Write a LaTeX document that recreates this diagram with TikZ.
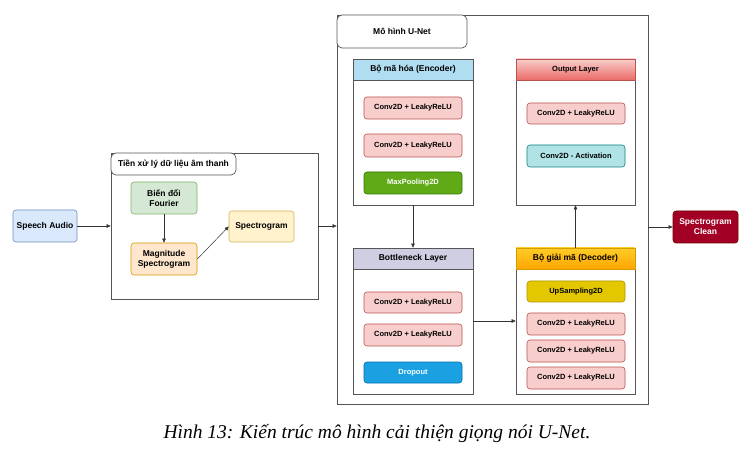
\documentclass[tikz,border=0pt]{standalone}
\usepackage{fontspec}
\setmainfont{Liberation Sans}
\setsansfont{Liberation Sans}
\newfontfamily\capfont{Liberation Serif}
\usetikzlibrary{arrows.meta,calc}
\definecolor{audioF}{HTML}{DAE8FC}\definecolor{audioD}{HTML}{6C8EBF}
\definecolor{grnF}{HTML}{D5E8D4}\definecolor{grnD}{HTML}{82B366}
\definecolor{orgF}{HTML}{FFE6CC}\definecolor{orgD}{HTML}{D79B00}
\definecolor{ylwF}{HTML}{FFF2CC}\definecolor{ylwD}{HTML}{D6B656}
\definecolor{encF}{HTML}{B1DDF0}\definecolor{encD}{HTML}{10739E}
\definecolor{redF}{HTML}{F8CECC}\definecolor{redD}{HTML}{B85450}\definecolor{redB}{HTML}{EA6B66}
\definecolor{bnF}{HTML}{D0CEE2}\definecolor{bnD}{HTML}{56517E}
\definecolor{decT}{HTML}{FFCD28}\definecolor{decB}{HTML}{FFA500}
\definecolor{mpF}{HTML}{60A917}\definecolor{mpD}{HTML}{2D7600}
\definecolor{actF}{HTML}{B0E3E6}\definecolor{actD}{HTML}{0E8088}
\definecolor{dpF}{HTML}{1BA1E2}\definecolor{dpD}{HTML}{006EAF}
\definecolor{upF}{HTML}{E3C800}\definecolor{upD}{HTML}{B09500}
\definecolor{clnF}{HTML}{A20025}\definecolor{clnD}{HTML}{6F0000}
\definecolor{frame}{HTML}{555555}
\tikzset{
  base/.style={draw, line width=0.6pt, rounded corners=3pt, align=center, inner sep=1pt, font=\sffamily\bfseries\fontsize{8.5}{10}\selectfont},
  small/.style={base, font=\sffamily\bfseries\fontsize{7.5}{9}\selectfont, minimum width=98pt},
  conv/.style={small, fill=redF, draw=redD},
  container/.style={draw=frame, line width=0.7pt, fill=white},
  panel/.style={draw=frame, line width=0.6pt, fill=white, minimum width=120pt, minimum height=146pt},
  header/.style={draw=frame, line width=0.6pt, minimum width=120pt, minimum height=21pt, font=\sffamily\bfseries\fontsize{8.5}{10}\selectfont},
  titlebox/.style={draw=frame, line width=0.7pt, fill=white, rounded corners=5pt, font=\sffamily\bfseries\fontsize{8.5}{10}\selectfont},
  arr/.style={-{Triangle[length=4pt,width=3.5pt]}, line width=0.5pt, draw=black!80}
}
\begin{document}
\begin{tikzpicture}[x=1pt,y=-1pt]
\useasboundingbox (0,0) rectangle (745,457);
\fill[white] (0,0) rectangle (745,457);

% input
\node[base, fill=audioF, draw=audioD, minimum width=64pt, minimum height=32pt] (speech) at (45,226) {Speech Audio};

% preprocessing
\node[container, minimum width=207pt, minimum height=146pt] (pre) at (214.5,226) {};
\node[titlebox, minimum width=125pt, minimum height=22pt, anchor=north west] (pretitle) at (pre.north west) {Tiền xử lý dữ liệu âm thanh};
\node[base, fill=grnF, draw=grnD, minimum width=66pt, minimum height=32pt] (fourier) at (164,198) {Biến đổi\\Fourier};
\node[base, fill=orgF, draw=orgD, minimum width=66pt, minimum height=32pt] (mag) at (164,259) {Magnitude\\Spectrogram};
\node[base, fill=ylwF, draw=ylwD, minimum width=65pt, minimum height=31pt] (spec) at (261.5,226.5) {Spectrogram};

% U-Net container
\node[container, minimum width=311pt, minimum height=389pt] (unet) at (492.5,209.5) {};
\node[titlebox, minimum width=130pt, minimum height=33pt, anchor=north west] (unettitle) at (unet.north west) {Mô hình U-Net};

% Encoder
\node[panel] (enc) at (413,132) {};
\node[header, fill=encF, anchor=north] (ench) at (enc.north) {Bộ mã hóa (Encoder)};
\node[conv, minimum height=22pt] (e1) at (413,108) {Conv2D + LeakyReLU};
\node[conv, minimum height=23pt] (e2) at (413,145.5) {Conv2D + LeakyReLU};
\node[small, fill=mpF, draw=mpD, text=white, minimum height=22pt] (e3) at (413,183) {MaxPooling2D};

% Output layer
\node[panel, minimum width=119pt] (out) at (575.5,132) {};
\node[header, minimum width=119pt, top color=redF, bottom color=redB, draw=redD, anchor=north, font=\sffamily\bfseries\fontsize{7.5}{9}\selectfont] (outh) at (out.north) {Output Layer};
\node[conv, minimum height=21pt] (o1) at (576,113.5) {Conv2D + LeakyReLU};
\node[small, fill=actF, draw=actD, minimum height=22pt] (o2) at (576,156) {Conv2D - Activation};

% Bottleneck
\node[panel] (bn) at (413,321) {};
\node[header, fill=bnF, anchor=north] (bnh) at (bn.north) {Bottleneck Layer};
\node[conv, minimum height=21pt] (b1) at (413,302.5) {Conv2D + LeakyReLU};
\node[conv, minimum height=22pt] (b2) at (413,335) {Conv2D + LeakyReLU};
\node[small, fill=dpF, draw=dpD, text=white, minimum height=21pt] (b3) at (413,372.5) {Dropout};

% Decoder
\node[panel, minimum width=119pt] (dec) at (575.5,321) {};
\node[header, minimum width=119pt, top color=decT, bottom color=decB, draw=orgD, anchor=north] (dech) at (dec.north) {Bộ giải mã (Decoder)};
\node[small, fill=upF, draw=upD, minimum height=21pt] (d0) at (576,291.5) {UpSampling2D};
\node[conv, minimum height=22pt] (d1) at (576,324) {Conv2D + LeakyReLU};
\node[conv, minimum height=22pt] (d2) at (576,351) {Conv2D + LeakyReLU};
\node[conv, minimum height=22pt] (d3) at (576,378) {Conv2D + LeakyReLU};

% output
\node[base, fill=clnF, draw=clnD, text=white, minimum width=65pt, minimum height=32pt] (clean) at (705.5,227) {Spectrogram\\Clean};

% arrows
\draw[arr] (speech.east) -- (pre.west);
\draw[arr] (fourier.south) -- (mag.north);
\draw[arr] (mag.east) -- (spec.west);
\draw[arr] (pre.east) -- (pre.east -| unet.west);
\draw[arr] (enc.south) -- (bn.north);
\draw[arr] (bn.east) -- (dec.west);
\draw[arr] (dec.north) -- (out.south);
\draw[arr] (unet.east |- clean.west) -- (clean.west);

% caption
\node[font=\capfont\itshape\fontsize{19.5}{22}\selectfont] (cap) at (377,434) {Hình 13: Kiến trúc mô hình cải thiện giọng nói U-Net.};
\end{tikzpicture}
\end{document}
